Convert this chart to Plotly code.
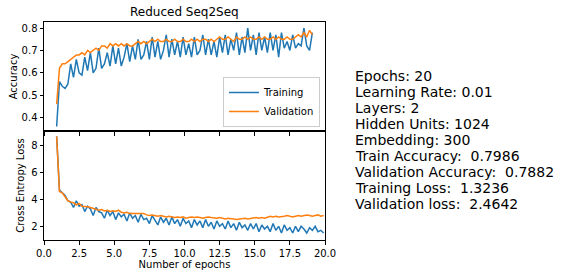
import numpy as np
import plotly.graph_objects as go
from plotly.subplots import make_subplots

# accuracy is logged every 0.2 epoch from 0.9 to 19.1
acc_epochs = np.round(np.arange(0.9, 19.11, 0.2), 2)
train_acc = [
    0.36, 0.56, 0.54, 0.53, 0.55, 0.64, 0.58, 0.66, 0.60, 0.59,
    0.67, 0.61, 0.69, 0.60, 0.62, 0.71, 0.62, 0.64, 0.69, 0.63,
    0.72, 0.64, 0.71, 0.63, 0.67, 0.73, 0.65, 0.72, 0.66, 0.75,
    0.66, 0.68, 0.74, 0.66, 0.76, 0.67, 0.74, 0.66, 0.70, 0.77,
    0.67, 0.75, 0.68, 0.74, 0.67, 0.76, 0.68, 0.73, 0.67, 0.76,
    0.68, 0.70, 0.77, 0.68, 0.75, 0.68, 0.74, 0.67, 0.76, 0.69,
    0.77, 0.68, 0.75, 0.70, 0.78, 0.68, 0.76, 0.69, 0.80, 0.70,
    0.77, 0.68, 0.78, 0.70, 0.76, 0.69, 0.78, 0.70, 0.77, 0.67,
    0.78, 0.71, 0.74, 0.70, 0.77, 0.71, 0.73, 0.72, 0.80, 0.72,
    0.70, 0.78,
]
val_acc = [
    0.46, 0.62, 0.64, 0.64, 0.65, 0.66, 0.67, 0.68, 0.68, 0.69,
    0.68, 0.70, 0.69, 0.70, 0.71, 0.70, 0.72, 0.72, 0.71, 0.73,
    0.72, 0.73, 0.72, 0.73, 0.72, 0.73, 0.72, 0.72, 0.73, 0.74,
    0.73, 0.74, 0.73, 0.74, 0.75, 0.74, 0.75, 0.74, 0.74, 0.75,
    0.74, 0.74, 0.75, 0.74, 0.74, 0.75, 0.74, 0.74, 0.75, 0.74,
    0.75, 0.74, 0.75, 0.75, 0.74, 0.75, 0.74, 0.75, 0.76, 0.75,
    0.75, 0.76, 0.75, 0.74, 0.76, 0.75, 0.75, 0.76, 0.75, 0.76,
    0.75, 0.75, 0.76, 0.75, 0.76, 0.75, 0.75, 0.76, 0.75, 0.76,
    0.75, 0.75, 0.76, 0.75, 0.75, 0.76, 0.77, 0.76, 0.78, 0.76,
    0.79, 0.77,
]

# loss is logged every 0.2 epoch from 0.9 to 19.9
loss_epochs = np.round(np.arange(0.9, 19.91, 0.2), 2)
train_loss = [
    8.7, 4.7, 4.5, 4.3, 3.9, 3.8, 3.4, 3.9, 3.5, 3.6,
    3.1, 3.5, 3.3, 2.8, 3.4, 3.1, 3.0, 2.6, 3.2, 2.8,
    3.1, 2.5, 3.0, 2.7, 2.9, 2.4, 3.0, 2.6, 2.8, 2.3,
    2.9, 2.5, 2.6, 2.2, 2.8, 2.4, 2.1, 2.7, 2.3, 2.6,
    2.1, 2.7, 2.2, 2.5, 2.0, 2.6, 2.2, 2.4, 1.9, 2.5,
    2.1, 2.4, 1.9, 2.5, 2.0, 2.3, 1.8, 2.4, 2.0, 2.2,
    1.8, 2.4, 1.9, 2.2, 1.7, 2.3, 1.9, 2.1, 1.7, 2.2,
    1.8, 2.2, 1.6, 2.1, 1.8, 2.0, 1.6, 2.2, 1.7, 2.0,
    1.5, 2.1, 1.7, 1.9, 1.5, 2.0, 1.6, 2.0, 1.8, 1.5,
    1.9, 1.7, 2.0, 1.6, 1.7, 1.5,
]
val_loss = [
    8.7, 4.6, 4.5, 4.2, 3.9, 3.8, 3.75, 3.6, 3.7, 3.5,
    3.5, 3.45, 3.4, 3.35, 3.3, 3.2, 3.25, 3.15, 3.2, 3.1,
    3.15, 3.1, 3.2, 3.05, 3.0, 3.05, 2.95, 2.95, 2.9, 2.95,
    2.9, 2.95, 2.85, 2.8, 2.85, 2.8, 2.75, 2.8, 2.75, 2.7,
    2.75, 2.7, 2.65, 2.7, 2.65, 2.7, 2.6, 2.65, 2.7, 2.65,
    2.7, 2.65, 2.6, 2.65, 2.7, 2.65, 2.6, 2.6, 2.65, 2.6,
    2.55, 2.6, 2.6, 2.55, 2.5, 2.55, 2.6, 2.6, 2.55, 2.6,
    2.6, 2.65, 2.6, 2.65, 2.6, 2.7, 2.75, 2.7, 2.75, 2.7,
    2.7, 2.75, 2.8, 2.75, 2.7, 2.75, 2.8, 2.75, 2.8, 2.85,
    2.8, 2.75, 2.8, 2.85, 2.75, 2.8,
]

info_lines = [
    "Epochs: 20",
    "Learning Rate: 0.01",
    "Layers: 2",
    "Hidden Units: 1024",
    "Embedding: 300",
    "Train Accuracy:  0.7986",
    "Validation Accuracy:  0.7882",
    "Training Loss:  1.3236",
    "Validation loss:  2.4642",
]

x_ticks = [0, 2.5, 5, 7.5, 10, 12.5, 15, 17.5, 20]

BLUE = "#1f77b4"
ORANGE = "#ff7f0e"
FONT = "DejaVu Sans"

fig = make_subplots(rows=2, cols=1, shared_xaxes=True, vertical_spacing=0)

fig.add_trace(go.Scatter(x=acc_epochs, y=train_acc, mode="lines", name="Training",
                         line=dict(color=BLUE, width=1.5)), row=1, col=1)
fig.add_trace(go.Scatter(x=acc_epochs, y=val_acc, mode="lines", name="Validation",
                         line=dict(color=ORANGE, width=1.5)), row=1, col=1)
fig.add_trace(go.Scatter(x=loss_epochs, y=train_loss, mode="lines", name="Training",
                         line=dict(color=BLUE, width=1.5), showlegend=False), row=2, col=1)
fig.add_trace(go.Scatter(x=loss_epochs, y=val_loss, mode="lines", name="Validation",
                         line=dict(color=ORANGE, width=1.5), showlegend=False), row=2, col=1)

axis_common = dict(showline=True, linecolor="black", linewidth=1, mirror=True,
                   ticks="outside", ticklen=3.5, tickcolor="black", showgrid=False,
                   zeroline=False, automargin=False,
                   tickfont=dict(family=FONT, size=10, color="black"))

fig.update_xaxes(range=[0, 20], tickvals=x_ticks, tickformat=".1f", **axis_common)
fig.update_xaxes(showticklabels=False, row=1, col=1)
fig.update_xaxes(title=dict(text="Number of epochs", font=dict(family=FONT, size=10, color="black"),
                            standoff=2), row=2, col=1)
fig.update_yaxes(**axis_common)
fig.update_yaxes(range=[0.34, 0.827], tickvals=[0.4, 0.5, 0.6, 0.7, 0.8], tickformat=".1f",
                 title=dict(text="Accuracy", font=dict(family=FONT, size=10, color="black"), standoff=2),
                 row=1, col=1)
fig.update_yaxes(range=[0.98, 9.1], tickvals=[2, 4, 6, 8],
                 title=dict(text="Cross Entropy Loss", font=dict(family=FONT, size=10, color="black"), standoff=4),
                 row=2, col=1)
fig.update_layout(yaxis=dict(domain=[0.5, 1.0]), yaxis2=dict(domain=[0.0, 0.5]))

L, R, T, B = 44, 325, 22, 240
W, H = 561, 278
pw, ph = R - L, B - T

annotations = [dict(text="Reduced Seq2Seq", xref="paper", yref="paper", x=0.5,
                    y=(B - 12) / ph, xanchor="center", yanchor="middle", showarrow=False,
                    font=dict(family=FONT, size=12, color="black"))]
for k, line in enumerate(info_lines):
    yc = 75.7 + 16.05 * k
    annotations.append(dict(text=line.replace(" ", "\u00a0"), xref="paper", yref="paper",
                            x=(353 - L) / pw, y=(B - yc) / ph, xanchor="left", yanchor="middle",
                            showarrow=False, font=dict(family=FONT, size=14, color="black")))

fig.update_layout(
    width=W, height=H,
    margin=dict(l=L, r=W - R, t=T, b=H - B, pad=0, autoexpand=False),
    paper_bgcolor="white", plot_bgcolor="white",
    annotations=annotations,
    legend=dict(x=0.982, y=(B - 127) / ph, xanchor="right", yanchor="bottom",
                bordercolor="#cccccc", borderwidth=1, bgcolor="rgba(255,255,255,0.8)",
                font=dict(family=FONT, size=10, color="black"), tracegroupgap=0,
                itemwidth=30),
    showlegend=True,
)

fig.write_html("out.html", config={"displayModeBar": False},
               post_script="document.body.style.margin='0px';")
